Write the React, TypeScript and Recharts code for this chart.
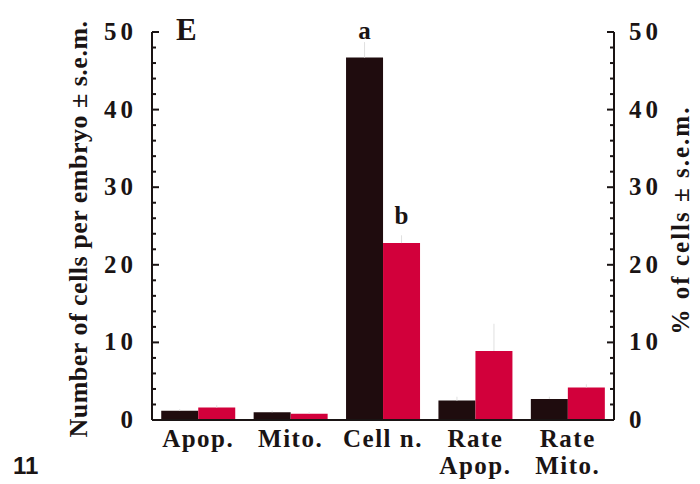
import React from "react";
import { ComposedChart, Bar, Line, XAxis, YAxis, ErrorBar, LabelList } from "recharts";

const categories: string[][] = [["Apop."], ["Mito."], ["Cell n."], ["Rate", "Apop."], ["Rate", "Mito."]];
const controlValues = [1.2, 1.0, 46.7, 2.5, 2.7];
const treatedValues = [1.6, 0.8, 22.8, 8.9, 4.2];
const controlErr = [0.2, 0.2, 2.0, 0.5, 0.3];
const treatedErr = [0.3, 0.2, 1.0, 3.5, 0.4];
const controlSig = ["", "", "a", "", ""];
const treatedSig = ["", "", "b", "", ""];
const yTicks = [0, 2, 4, 6, 8, 10, 12, 14, 16, 18, 20, 22, 24, 26, 28, 30, 32, 34, 36, 38, 40, 42, 44, 46, 48, 50];
const leftTitle = "Number of cells per embryo \u00b1 s.e.m.";
const rightTitle = "% of cells \u00b1 s.e.m.";
const panelLabel = "E";
const figureNumber = "11";

const data = categories.map((c, i) => ({
  key: c.join(" "),
  control: controlValues[i],
  treated: treatedValues[i],
  controlErr: [0, controlErr[i]],
  treatedErr: [0, treatedErr[i]],
  controlSig: controlSig[i],
  treatedSig: treatedSig[i],
}));

const SERIF = "'Liberation Serif', 'Times New Roman', serif";
const INK = "#1a1414";
const BLACK_BAR = "#1f0c0e";
const RED_BAR = "#d2003b";

const LeftTick = (props: any) => {
  const { x, y, payload } = props;
  const major = payload.value % 10 === 0;
  return (
    <g>
      <line x1={x} x2={x + (major ? 7 : 4)} y1={y} y2={y} stroke={INK} strokeWidth={2} />
      {major && (
        <text x={x - 15} y={y} dy={8} textAnchor="end" fontFamily={SERIF} fontWeight="bold" fontSize={25} letterSpacing={4} fill={INK}>
          {payload.value}
        </text>
      )}
    </g>
  );
};

const RightTick = (props: any) => {
  const { x, y, payload } = props;
  const major = payload.value % 10 === 0;
  return (
    <g>
      <line x1={x} x2={x - (major ? 7 : 4)} y1={y} y2={y} stroke={INK} strokeWidth={2} />
      {major && (
        <text x={x + 15} y={y} dy={8} textAnchor="start" fontFamily={SERIF} fontWeight="bold" fontSize={25} letterSpacing={4} fill={INK}>
          {payload.value}
        </text>
      )}
    </g>
  );
};

const XTick = (props: any) => {
  const { x, y, index } = props;
  const lines = categories[index] || [];
  return (
    <g>
      {lines.map((l, i) => (
        <text key={i} x={x} y={y + 27 + i * 27} textAnchor="middle" fontFamily={SERIF} fontWeight="bold" fontSize={25} letterSpacing={1.5} fill={INK}>
          {l}
        </text>
      ))}
    </g>
  );
};

const SigLabel = (props: any) => {
  const { x, y, width, value } = props;
  if (!value) return null;
  return (
    <text x={x + width / 2} y={y - 19} textAnchor="middle" fontFamily={SERIF} fontWeight="bold" fontSize={25} fill={INK}>
      {value}
    </text>
  );
};

export default function App() {
  return (
    <div style={{ position: "absolute", left: 0, top: 0, width: 700, height: 484, background: "#fff" }}>
      <ComposedChart
        width={700}
        height={484}
        data={data}
        margin={{ top: 32, right: 0, bottom: 0, left: 0 }}
        barCategoryGap="10%"
        barGap={0}
      >
        <XAxis
          dataKey="key"
          height={64}
          axisLine={{ stroke: INK, strokeWidth: 2 }}
          tickLine={false}
          tickSize={0}
          tickMargin={0}
          tick={<XTick />}
          interval={0}
        />
        <YAxis
          yAxisId="left"
          orientation="left"
          width={152}
          domain={[0, 50]}
          ticks={yTicks}
          interval={0}
          axisLine={{ stroke: INK, strokeWidth: 2 }}
          tickLine={false}
          tickSize={0}
          tickMargin={0}
          tick={<LeftTick />}
        />
        <YAxis
          yAxisId="right"
          orientation="right"
          width={86}
          domain={[0, 50]}
          ticks={yTicks}
          interval={0}
          axisLine={{ stroke: INK, strokeWidth: 2 }}
          tickLine={false}
          tickSize={0}
          tickMargin={0}
          tick={<RightTick />}
        />
        <Bar yAxisId="left" dataKey="control" fill={BLACK_BAR} isAnimationActive={false}>
          <ErrorBar dataKey="controlErr" width={0} stroke="#e0e0e0" strokeWidth={1} direction="y" />
          <LabelList dataKey="controlSig" content={<SigLabel />} />
        </Bar>
        <Bar yAxisId="left" dataKey="treated" fill={RED_BAR} isAnimationActive={false}>
          <ErrorBar dataKey="treatedErr" width={0} stroke="#e0e0e0" strokeWidth={1} direction="y" />
          <LabelList dataKey="treatedSig" content={<SigLabel />} />
        </Bar>
        <Line
          yAxisId="right"
          dataKey="treated"
          stroke="none"
          dot={false}
          activeDot={false}
          legendType="none"
          isAnimationActive={false}
        />
      </ComposedChart>
      <svg width={700} height={484} style={{ position: "absolute", left: 0, top: 0, pointerEvents: "none" }}>
        <text x={176} y={40} fontFamily={SERIF} fontWeight="bold" fontSize={31} fill={INK}>
          {panelLabel}
        </text>
        <text x={13} y={474} fontFamily="'Liberation Sans', Arial, sans-serif" fontWeight="bold" fontSize={24} fill={INK}>
          {figureNumber}
        </text>
        <text
          transform="translate(87,229) rotate(-90)"
          textAnchor="middle"
          fontFamily={SERIF}
          fontWeight="bold"
          fontSize={26}
          letterSpacing={0.5}
          fill={INK}
        >
          {leftTitle}
        </text>
        <text
          transform="translate(689,220) rotate(-90)"
          textAnchor="middle"
          fontFamily={SERIF}
          fontWeight="bold"
          fontSize={25}
          letterSpacing={2}
          fill={INK}
        >
          {rightTitle}
        </text>
      </svg>
    </div>
  );
}
